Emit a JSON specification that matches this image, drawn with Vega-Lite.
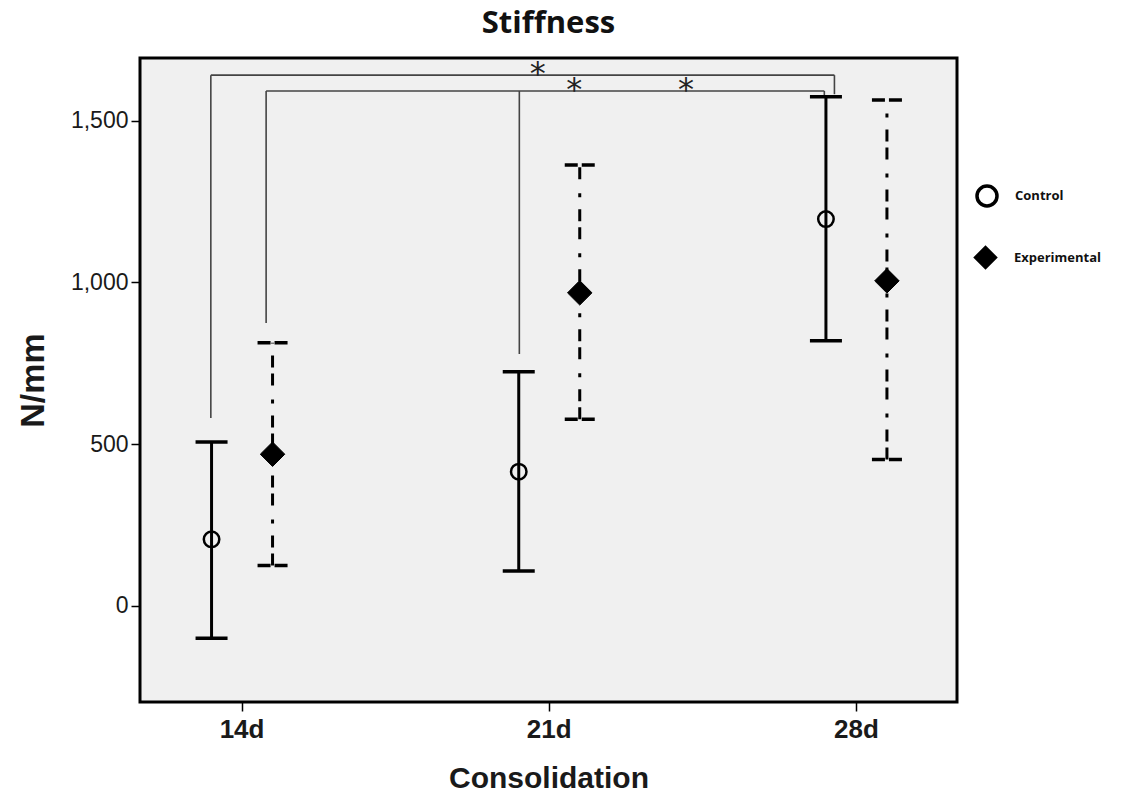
{
  "$schema": "https://vega.github.io/schema/vega-lite/v6.json",
  "autosize": "none",
  "width": 817,
  "height": 644,
  "padding": {"left": 140, "top": 58, "right": 177, "bottom": 100},
  "background": "white",
  "title": {"text": "Stiffness", "font": "Open Sans", "fontSize": 31, "fontWeight": "bold", "color": "#111", "anchor": "middle", "offset": 18},
  "config": {
    "view": {"fill": "#f0f0f0", "stroke": "black", "strokeWidth": 3},
    "axis": {"grid": false, "domain": false, "tickColor": "black", "tickWidth": 1.5, "tickSize": 9, "labelColor": "#1a1a1a", "titleColor": "#1a1a1a"},
    "legend": {"labelFont": "Open Sans", "labelFontSize": 13, "labelFontWeight": "bold", "labelColor": "#111", "labelOffset": 16, "padding": 0}
  },
  "datasets": {
    "stats": [
      {"day": 14, "group": "Control", "mean": 206, "lower": -100, "upper": 507},
      {"day": 14, "group": "Experimental", "mean": 469, "lower": 125, "upper": 814},
      {"day": 21, "group": "Control", "mean": 415, "lower": 108, "upper": 724},
      {"day": 21, "group": "Experimental", "mean": 968, "lower": 577, "upper": 1363},
      {"day": 28, "group": "Control", "mean": 1196, "lower": 820, "upper": 1574},
      {"day": 28, "group": "Experimental", "mean": 1005, "lower": 453, "upper": 1564}
    ],
    "brackets": [
      {"x": 13.3, "x2": 13.3, "y": 581, "y2": 1641},
      {"x": 13.3, "x2": 27.51, "y": 1641, "y2": 1641},
      {"x": 27.51, "x2": 27.51, "y": 1641, "y2": 1582},
      {"x": 14.56, "x2": 14.56, "y": 875, "y2": 1592},
      {"x": 14.56, "x2": 27.28, "y": 1592, "y2": 1592},
      {"x": 27.28, "x2": 27.28, "y": 1592, "y2": 1574},
      {"x": 20.33, "x2": 20.33, "y": 779, "y2": 1592}
    ],
    "stars": [
      {"x": 20.75, "y": 1667, "label": "*"},
      {"x": 21.58, "y": 1617, "label": "*"},
      {"x": 24.13, "y": 1617, "label": "*"}
    ]
  },
  "data": {"name": "stats"},
  "encoding": {
    "x": {"field": "day", "type": "quantitative",
      "scale": {"domain": [11.686, 30.303], "nice": false, "zero": false},
      "axis": {"values": [14, 21, 28], "labelExpr": "datum.value + 'd'", "labelFont": "Liberation Sans", "labelFontSize": 26, "labelFontWeight": "bold", "labelPadding": 5, "title": "Consolidation", "titleFont": "Liberation Sans", "titleFontSize": 30, "titleFontWeight": "bold", "titlePadding": 21}}
  },
  "layer": [
    {
      "data": {"name": "brackets"},
      "mark": {"type": "rule", "stroke": "#444", "strokeWidth": 1.6},
      "encoding": {
        "x": {"field": "x", "type": "quantitative"},
        "x2": {"field": "x2"},
        "y": {"field": "y", "type": "quantitative"},
        "y2": {"field": "y2"}
      }
    },
    {
      "data": {"name": "stars"},
      "mark": {"type": "text", "font": "DejaVu Sans", "fontSize": 32, "color": "#222", "baseline": "middle", "dy": 7},
      "encoding": {
        "x": {"field": "x", "type": "quantitative"},
        "y": {"field": "y", "type": "quantitative"},
        "text": {"field": "label"}
      }
    },
    {
      "transform": [{"filter": "datum.group === 'Control'"}],
      "mark": {"type": "rule", "stroke": "black", "strokeWidth": 3, "xOffset": -30},
      "encoding": {
        "y": {"field": "lower", "type": "quantitative"},
        "y2": {"field": "upper"}
      }
    },
    {
      "transform": [{"filter": "datum.group === 'Control'"}],
      "mark": {"type": "rule", "stroke": "black", "strokeWidth": 3.5, "xOffset": -46, "x2Offset": -14},
      "encoding": {
        "x2": {"field": "day"},
        "y": {"field": "upper", "type": "quantitative"}
      }
    },
    {
      "transform": [{"filter": "datum.group === 'Control'"}],
      "mark": {"type": "rule", "stroke": "black", "strokeWidth": 3.5, "xOffset": -46, "x2Offset": -14},
      "encoding": {
        "x2": {"field": "day"},
        "y": {"field": "lower", "type": "quantitative"}
      }
    },
    {
      "transform": [{"filter": "datum.group === 'Experimental'"}],
      "mark": {"type": "rule", "stroke": "black", "strokeWidth": 3, "xOffset": 31, "strokeDash": [12, 6, 12, 12, 4, 14]},
      "encoding": {
        "y": {"field": "lower", "type": "quantitative"},
        "y2": {"field": "upper"}
      }
    },
    {
      "transform": [{"filter": "datum.group === 'Experimental'"}],
      "mark": {"type": "rule", "stroke": "black", "strokeWidth": 3.5, "xOffset": 16, "x2Offset": 46, "strokeDash": [13, 4, 13]},
      "encoding": {
        "x2": {"field": "day"},
        "y": {"field": "upper", "type": "quantitative"}
      }
    },
    {
      "transform": [{"filter": "datum.group === 'Experimental'"}],
      "mark": {"type": "rule", "stroke": "black", "strokeWidth": 3.5, "xOffset": 16, "x2Offset": 46, "strokeDash": [13, 4, 13]},
      "encoding": {
        "x2": {"field": "day"},
        "y": {"field": "lower", "type": "quantitative"}
      }
    },
    {
      "transform": [{"filter": "datum.group === 'Control'"}],
      "mark": {"type": "point", "filled": false, "fill": "transparent", "stroke": "black", "strokeWidth": 2.5, "size": 240, "opacity": 1, "xOffset": -30},
      "encoding": {
        "y": {"field": "mean", "type": "quantitative",
          "scale": {"domain": [-297, 1694], "nice": false, "zero": false},
          "axis": {"values": [0, 500, 1000, 1500], "format": ",.0f", "labelFont": "Liberation Sans", "labelFontSize": 23, "labelPadding": 3, "title": "N/mm", "titleFont": "Liberation Sans", "titleFontSize": 34, "titleFontWeight": "bold", "titlePadding": 20}},
        "shape": {"field": "group", "type": "nominal", "scale": {"domain": ["Control"], "range": ["circle"]},
          "legend": {"title": null, "orient": "none", "legendX": 835, "legendY": 126, "symbolSize": 400, "symbolStrokeWidth": 3.5, "symbolStrokeColor": "black"}}
      }
    },
    {
      "transform": [{"filter": "datum.group === 'Experimental'"}],
      "mark": {"type": "point", "shape": "diamond", "filled": true, "fill": "black", "stroke": "black", "strokeWidth": 1, "size": 600, "opacity": 1, "xOffset": 31},
      "encoding": {
        "y": {"field": "mean", "type": "quantitative"},
        "color": {"field": "group", "type": "nominal", "scale": {"domain": ["Experimental"], "range": ["black"]},
          "legend": {"title": null, "orient": "none", "legendX": 833, "legendY": 187, "symbolType": "diamond", "symbolSize": 600, "symbolFillColor": "black", "symbolStrokeWidth": 0}}
      }
    }
  ]
}
